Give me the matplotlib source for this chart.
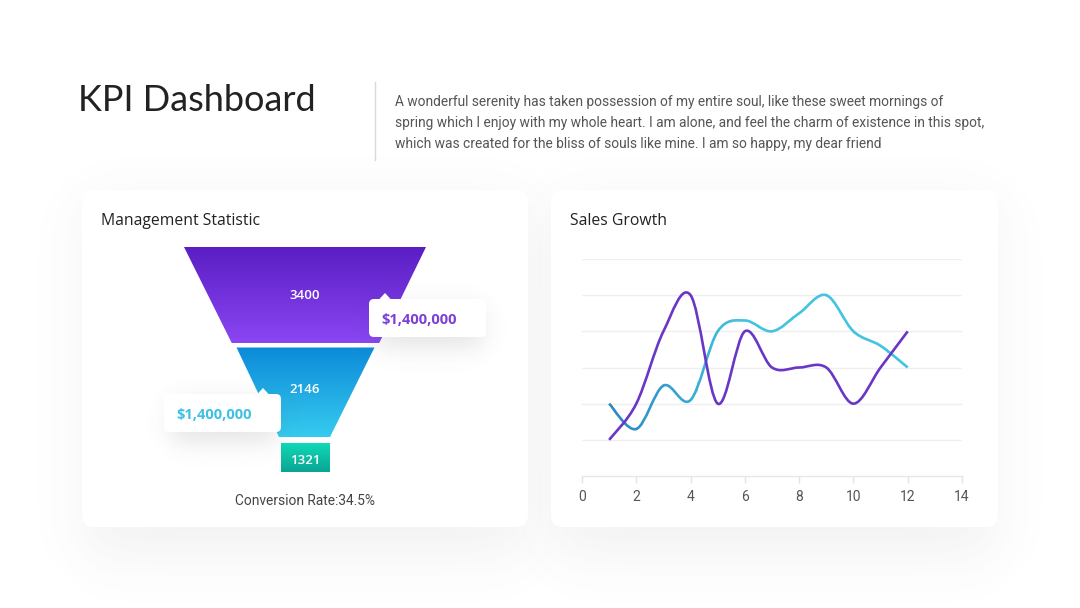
import numpy as np
import matplotlib
matplotlib.use("Agg")
import matplotlib.pyplot as plt
from matplotlib.path import Path
from matplotlib.patches import PathPatch, FancyBboxPatch, Polygon, Rectangle
from matplotlib.colors import to_rgb

# ---------------- data ----------------
title = "KPI Dashboard"
paragraph = ["A wonderful serenity has taken possession of my entire soul, like these sweet mornings of",
             "spring which I enjoy with my whole heart. I am alone, and feel the charm of existence in this spot,",
             "which was created for the bliss of souls like mine. I am so happy, my dear friend"]
funnel_title = "Management Statistic"
funnel_values = [3400, 2146, 1321]
callout_labels = ["$1,400,000", "$1,400,000"]
conversion_label = "Conversion Rate:34.5%"
line_title = "Sales Growth"
months = [1, 2, 3, 4, 5, 6, 7, 8, 9, 10, 11, 12]
series_purple = [1, 2, 4, 5, 2, 4, 3, 3, 3, 2, 3, 4]
series_cyan = [2, 1.3, 2.5, 2.1, 4, 4.3, 4, 4.5, 5, 4, 3.6, 3]
x_ticks = [0, 2, 4, 6, 8, 10, 12, 14]

W, H = 1080, 608
fig = plt.figure(figsize=(W / 100, H / 100), dpi=100)
fig.patch.set_facecolor("white")
bg = fig.add_axes([0, 0, 1, 1])
bg.set_xlim(0, W)
bg.set_ylim(H, 0)
bg.axis("off")


def soft_shadow(ax, x0, y0, x1, y1, sigma, alpha, z):
    xs = np.arange(0, W) + 0.5
    ys = np.arange(0, H) + 0.5

    def s(v, a, b):
        return (1 / (1 + np.exp(-(v - a) / sigma))) * (1 / (1 + np.exp((v - b) / sigma)))
    A = np.outer(s(ys, y0, y1), s(xs, x0, x1)) * alpha
    img = np.zeros((H, W, 4))
    img[..., :3] = 0.35
    img[..., 3] = A
    ax.imshow(img, extent=(0, W, H, 0), origin="upper", zorder=z, interpolation="bilinear")


def gradient_fill(ax, patch, c_top, c_bot, y0, y1, z):
    ax.add_patch(patch)
    patch.set_facecolor("none")
    patch.set_edgecolor("none")
    n = 256
    t = np.linspace(0, 1, n)[:, None]
    ct, cb = np.array(to_rgb(c_top)), np.array(to_rgb(c_bot))
    g = (ct[None, :] * (1 - t) + cb[None, :] * t)[:, None, :]
    im = ax.imshow(g, extent=(0, W, y1, y0), origin="upper", aspect="auto",
                   zorder=z, interpolation="bilinear")
    im.set_clip_path(patch)


# cards with shadows
cards = [(82, 190, 528, 527), (551, 190, 998, 527)]
for (x0, y0, x1, y1) in cards:
    soft_shadow(bg, x0 + 2, y0 + 12, x1 - 2, y1 + 30, 16, 0.075, 1)
for (x0, y0, x1, y1) in cards:
    bg.add_patch(FancyBboxPatch((x0, y0), x1 - x0, y1 - y0,
                                boxstyle="round,pad=0,rounding_size=12",
                                fc="white", ec="none", zorder=2))

# header
bg.text(78, 111, title, fontsize=26, family="Lato", color="#222222", va="baseline", zorder=5)
bg.plot([375, 375], [82, 160], color="#d9d9d9", lw=1, zorder=5)
for i, line in enumerate(paragraph):
    bg.text(395, 106 + 21 * i, line, fontsize=9.9, family="Roboto", color="#555555",
            va="baseline", zorder=5)

bg.text(101, 225, funnel_title, fontsize=11.3, family="Open Sans", color="#222222",
        va="baseline", zorder=5)
bg.text(570, 225, line_title, fontsize=11.3, family="Open Sans", color="#222222",
        va="baseline", zorder=5)

# funnel shapes
seg1 = Polygon([(184, 247), (426, 247), (379, 343.5), (232, 343.5)], closed=True)
gradient_fill(bg, seg1, "#5a1dc3", "#8a46f3", 247, 343.5, 3)
seg2 = Polygon([(236.5, 347.5), (374.5, 347.5), (330, 437), (279, 437)], closed=True)
gradient_fill(bg, seg2, "#0c8ad8", "#36cbef", 347.5, 437, 3)
seg3 = Rectangle((281, 443), 49, 29)
gradient_fill(bg, seg3, "#0fdab6", "#0aa493", 443, 472, 3)

label_y = [299, 393, 464]
for v, yb in zip(funnel_values, label_y):
    bg.text(305, yb, str(v), fontsize=9.5, family="Open Sans", fontweight="semibold",
            color="white", ha="center", va="baseline", zorder=6)

# callouts
callouts = [((369, 299), (117, 38), 385, "#7b3fd8"),
            ((164, 394), (117, 38), 263, "#3ec0e6")]
for (pos, size, px, col), lab in zip(callouts, callout_labels):
    x0, y0 = pos
    w, h = size
    soft_shadow(bg, x0 + 8, y0 + 8, x0 + w - 4, y0 + h + 10, 7, 0.16, 7)
    bg.add_patch(FancyBboxPatch((x0, y0), w, h, boxstyle="round,pad=0,rounding_size=5",
                                fc="white", ec="none", zorder=8))
    bg.add_patch(Polygon([(px - 6, y0 + 0.5), (px + 6, y0 + 0.5), (px, y0 - 6)],
                         closed=True, fc="white", ec="none", zorder=8))
    bg.text(x0 + 12, y0 + 25, lab, fontsize=10.5, family="Open Sans", fontweight="bold",
            color=col, va="baseline", zorder=9)

bg.text(305, 505, conversion_label, fontsize=9.9, family="Roboto", color="#444444",
        ha="center", va="baseline", zorder=5)

# ---------------- line chart ----------------
ax = fig.add_axes([582 / W, (H - 476) / H, 380 / W, 217 / H])
ax.set_facecolor("none")
ax.set_xlim(0, 14)
ax.set_ylim(0, 6)
ax.set_zorder(10)
for sp in ["top", "right", "left"]:
    ax.spines[sp].set_visible(False)
ax.spines["bottom"].set_color("#e8e8e8")
ax.spines["bottom"].set_linewidth(1)
ax.set_yticks([1, 2, 3, 4, 5, 6])
ax.tick_params(axis="y", left=False, labelleft=False)
ax.grid(axis="y", color="#efefef", lw=1)
ax.set_xticks(x_ticks)
ax.tick_params(axis="x", colors="#e3e3e3", length=5, width=1, pad=5, labelsize=10,
               labelcolor="#555555")
for lbl in ax.get_xticklabels():
    lbl.set_family("Roboto")
ax.set_axisbelow(True)


def smooth_path(xs, ys):
    p = np.column_stack([xs, ys]).astype(float)
    n = len(p)
    verts = [p[0]]
    codes = [Path.MOVETO]
    for i in range(n - 1):
        pm = p[i - 1] if i > 0 else p[i]
        pn2 = p[i + 2] if i + 2 < n else p[i + 1]
        c1 = p[i] + (p[i + 1] - pm) / 6
        c2 = p[i + 1] - (pn2 - p[i]) / 6
        verts += [c1, c2, p[i + 1]]
        codes += [Path.CURVE4] * 3
    return Path(verts, codes)


# cyan line with a soft left-to-right colour gradient
cpath = smooth_path(months, series_cyan)
cL, cR = np.array(to_rgb("#2a85c3")), np.array(to_rgb("#42c4e0"))
edges = np.linspace(0.5, 12.5, 49)
for a, b in zip(edges[:-1], edges[1:]):
    t = np.clip(((a + b) / 2 - 1) / 5, 0, 1)
    col = cL * (1 - t) + cR * t
    pp = PathPatch(cpath, fill=False, ec=col, lw=1.9, capstyle="butt", zorder=3)
    ax.add_patch(pp)
    clip = Rectangle((a, -1), b - a + 0.01, 8, transform=ax.transData)
    pp.set_clip_path(clip)

ppath = smooth_path(months, series_purple)
ax.add_patch(PathPatch(ppath, fill=False, ec="#6a36c6", lw=1.9, zorder=4))

fig.savefig("out.png", dpi=100, facecolor="white")
